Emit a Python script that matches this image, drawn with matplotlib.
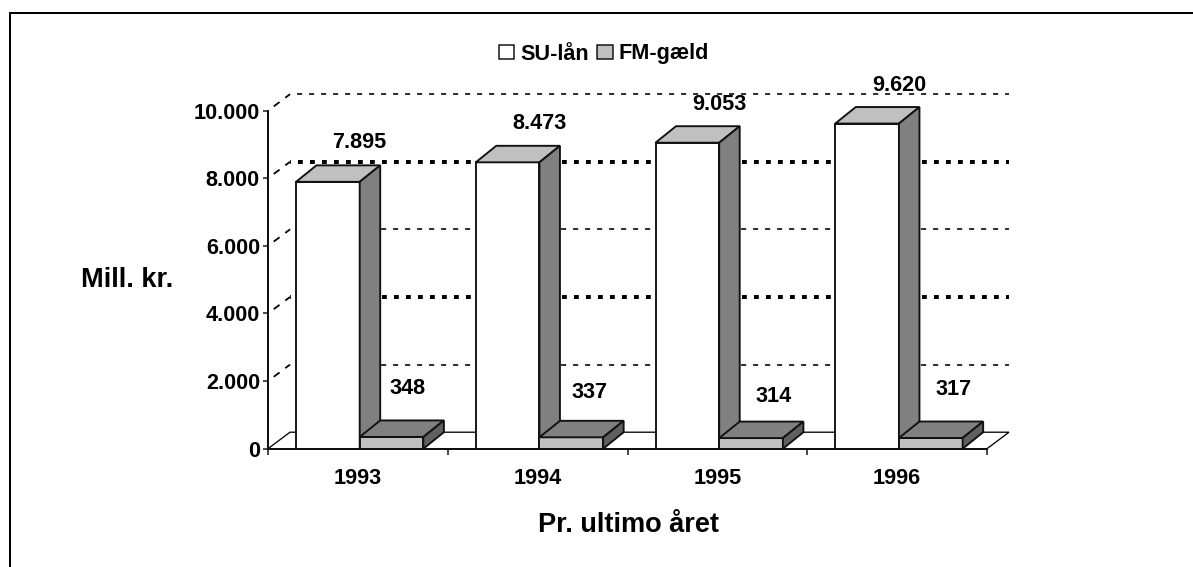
import matplotlib
matplotlib.use("Agg")
import matplotlib.pyplot as plt
from matplotlib.patches import Polygon, Patch
from matplotlib.lines import Line2D

years = ["1993", "1994", "1995", "1996"]
su_laan = [7895, 8473, 9053, 9620]
fm_gaeld = [348, 337, 314, 317]
su_labels = ["7.895", "8.473", "9.053", "9.620"]
fm_labels = ["348", "337", "314", "317"]
yticks = [0, 2000, 4000, 6000, 8000, 10000]
ytick_labels = ["0", "2.000", "4.000", "6.000", "8.000", "10.000"]
fm_label_offset_px = [(48, 48), (50, 45), (54, 42), (55, 48)]
su_label_offset_px = [(0, 39), (0, 39), (0, 38), (0, 38)]

W, H = 1193, 567
plt.rcParams["font.family"] = ["Liberation Sans", "DejaVu Sans"]
plt.rcParams["font.weight"] = "bold"
FS = 15.6
FS_TITLE = 19.5
PX = 0.72

fig = plt.figure(figsize=(W / 100, H / 100), dpi=100, facecolor="white")
ax_l, ax_r, ax_b, ax_t = 268, 987, 448.7, 110.7
ax = fig.add_axes([ax_l / W, 1 - ax_b / H, (ax_r - ax_l) / W, (ax_b - ax_t) / H])
ax.set_xlim(0, 4)
ax.set_ylim(0, 10000)
ax.patch.set_alpha(0)

px_x = 4 / (ax_r - ax_l)
px_y = 10000 / (ax_b - ax_t)
dx = 22 * px_x
dy = 16.5 * px_y
bar_dx = 20.5 * px_x
bar_start = 28 * px_x
bar_w = 63.7 * px_x
INK = "#111111"

# outer frame (top and left only)
fig.add_artist(Line2D([10 / W, 10 / W], [0, 1 - 13 / H], color="black", lw=2 * PX))
fig.add_artist(Line2D([10 / W, 1], [1 - 13 / H, 1 - 13 / H], color="black", lw=2 * PX))

# gridlines on the back wall and side wall
for v in yticks[1:]:
    if v in (4000, 8000):
        lw, style = 4 * PX, (1.0, (1.2, 1.8))
    else:
        lw, style = 1.6 * PX, (3.1, (3.2, 4.3))
    ax.plot([dx, 4 + dx], [v + dy, v + dy], color="black", lw=lw, linestyle=style,
            dash_capstyle="butt", clip_on=False, zorder=1)
    ax.plot([0, dx], [v, v + dy], color="black", lw=1.8 * PX, linestyle=(4.0, (4.0, 4.0)),
            dash_capstyle="butt", clip_on=False, zorder=1)

# floor
ax.plot([0, dx, 4 + dx, 4], [0, dy, dy, 0], color="black", lw=1.3 * PX,
        clip_on=False, zorder=1, solid_joinstyle="miter")


def box3d(x0, w, h, front, top, side, z):
    kw = dict(edgecolor=INK, lw=1.9 * PX, clip_on=False, zorder=z, joinstyle="miter")
    ax.add_patch(Polygon([(x0, 0), (x0 + w, 0), (x0 + w, h), (x0, h)], facecolor=front, **kw))
    ax.add_patch(Polygon([(x0, h), (x0 + w, h), (x0 + w + bar_dx, h + dy),
                          (x0 + bar_dx, h + dy)], facecolor=top, **kw))
    ax.add_patch(Polygon([(x0 + w, 0), (x0 + w + bar_dx, dy), (x0 + w + bar_dx, h + dy),
                          (x0 + w, h)], facecolor=side, **kw))


for i, (su, fm) in enumerate(zip(su_laan, fm_gaeld)):
    x0 = i + bar_start
    box3d(x0, bar_w, su, "white", "#C0C0C0", "#808080", 3 + 2 * i)
    box3d(x0 + bar_w, bar_w, fm, "#C0C0C0", "#808080", "#606060", 4 + 2 * i)
    ox, oy = su_label_offset_px[i]
    ax.annotate(su_labels[i], (x0 + bar_w, su), xytext=(ox * PX, oy * PX),
                textcoords="offset points", ha="center", va="center",
                fontsize=FS, fontweight="bold", color="black", zorder=30,
                annotation_clip=False)
    ox, oy = fm_label_offset_px[i]
    ax.annotate(fm_labels[i], (x0 + bar_w, fm), xytext=(ox * PX, oy * PX),
                textcoords="offset points", ha="center", va="center",
                fontsize=FS, fontweight="bold", color="black", zorder=30,
                annotation_clip=False)

# axes
for s in ("top", "right"):
    ax.spines[s].set_visible(False)
for s in ("left", "bottom"):
    ax.spines[s].set_linewidth(2 * PX)
    ax.spines[s].set_color(INK)
    ax.spines[s].set_zorder(25)
ax.set_yticks(yticks)
ax.set_yticklabels(ytick_labels, fontsize=FS, fontweight="bold")
ax.tick_params(axis="y", length=5 * PX, width=1.5 * PX, pad=3 * PX, color=INK)
ax.set_xticks(range(5))
ax.set_xticklabels([])
ax.tick_params(axis="x", which="major", length=6 * PX, width=1.5 * PX, color=INK)
ax.set_xticks([i + 0.5 for i in range(4)], minor=True)
ax.set_xticklabels(years, minor=True, fontsize=FS, fontweight="bold")
ax.tick_params(axis="x", which="minor", length=0, pad=19 * PX)

ax.set_xlabel("Pr. ultimo året", fontsize=FS_TITLE, fontweight="bold")
ax.xaxis.set_label_coords(629 / W, 1 - 532 / H, transform=fig.transFigure)
ax.xaxis.label.set_va("baseline")
ax.set_ylabel("Mill. kr.", rotation=0, fontsize=FS_TITLE, fontweight="bold")
ax.yaxis.set_label_coords(127.5 / W, 1 - 287 / H, transform=fig.transFigure)
ax.yaxis.label.set_va("baseline")
ax.yaxis.label.set_ha("center")

handles = [Patch(facecolor="white", edgecolor=INK, lw=1.5 * PX, label="SU-lån"),
           Patch(facecolor="#C0C0C0", edgecolor=INK, lw=1.5 * PX, label="FM-gæld")]
fig.legend(handles=handles, loc="center", bbox_to_anchor=(604 / W, 1 - 54 / H), ncol=2,
           frameon=False, handlelength=0.7, handleheight=0.65,
           handletextpad=0.28, columnspacing=0.4, borderpad=0,
           prop={"weight": "bold", "size": FS})

fig.savefig("out.png", dpi=100, facecolor="white")
